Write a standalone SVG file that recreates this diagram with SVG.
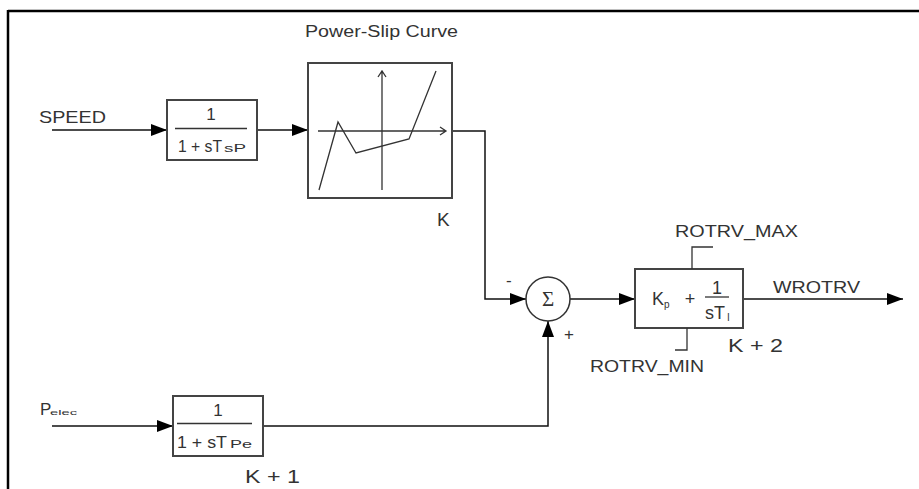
<svg xmlns="http://www.w3.org/2000/svg" width="919" height="489" viewBox="0 0 919 489">
<style>
text{font-family:"Liberation Sans",Arial,sans-serif;fill:#333;font-size:17px}
.box{fill:#fff;stroke:#444;stroke-width:2}
.ln{fill:none;stroke:#111;stroke-width:1.5}
.thin{fill:none;stroke:#333;stroke-width:1.3}
.sub{font-size:10px}
.big{font-size:19px}
.pi{font-size:18px}
</style>
<defs>
<marker id="arr" markerUnits="userSpaceOnUse" markerWidth="16" markerHeight="12" refX="16" refY="6" orient="auto">
<path d="M0,0 L16,6 L0,12 z" fill="#000"/>
</marker>
</defs>
<rect width="919" height="489" fill="#fff"/>
<path d="M8,10 V489 M8,11 H919" fill="none" stroke="#000" stroke-width="2.5"/>

<g id="connectors">
<path class="ln" d="M52,130 H167" marker-end="url(#arr)"/>
<path class="ln" d="M257,130 H308" marker-end="url(#arr)"/>
<path class="ln" d="M452,131 H485 V299 H526" marker-end="url(#arr)"/>
<path class="ln" d="M570,299 H635" marker-end="url(#arr)"/>
<path class="ln" d="M743,299 H903" marker-end="url(#arr)"/>
<path class="ln" d="M52,426 H173" marker-end="url(#arr)"/>
<path class="ln" d="M263,426 H548 V321" marker-end="url(#arr)"/>
</g>

<g id="speed-label"><text x="39" y="123" textLength="67" lengthAdjust="spacingAndGlyphs">SPEED</text></g>
<g id="pelec-label"><text x="40" y="415">P</text><text x="50" y="415" textLength="27" lengthAdjust="spacingAndGlyphs" style="font-size:8px">elec</text></g>

<g id="speed-filter">
<rect class="box" x="167" y="100" width="90" height="60"/>
<text x="211" y="120" text-anchor="middle">1</text>
<path class="thin" d="M175,128.5 H247"/>
<text x="178" y="152" textLength="44" lengthAdjust="spacingAndGlyphs">1 + sT</text>
<text class="sub" x="224" y="152" textLength="22" lengthAdjust="spacingAndGlyphs">sP</text>
</g>

<g id="power-slip">
<text x="305" y="37" style="font-size:16px" textLength="153" lengthAdjust="spacingAndGlyphs">Power-Slip Curve</text>
<rect class="box" x="308" y="63" width="144" height="135"/>
<path class="thin" d="M318,131 H446 M440,127 L446,131 L440,135"/>
<path class="thin" d="M382,190 V71 M378,77 L382,71 L386,77"/>
<polyline class="thin" points="319,190 338,122 356,153 409,139 436,71"/>
<text class="big" x="437" y="226">K</text>
</g>

<g id="sum">
<circle cx="548" cy="299" r="22" fill="#fff" stroke="#333" stroke-width="1.5"/>
<text x="548" y="306" text-anchor="middle" style="font-family:'Liberation Serif',serif;font-size:21px">Σ</text>
<text x="506" y="286">-</text>
<text x="569" y="340" text-anchor="middle">+</text>
</g>

<g id="pi-controller">
<rect class="box" x="635" y="269" width="108" height="59"/>
<text class="pi" x="652" y="305">K</text>
<text class="sub" x="664" y="308">p</text>
<text class="pi" x="690" y="305" text-anchor="middle">+</text>
<text class="pi" x="717" y="294" text-anchor="middle">1</text>
<path class="thin" d="M705,297 H729"/>
<text class="pi" x="705" y="319">sT</text>
<text class="sub" x="727" y="321">I</text>
<path class="thin" d="M692,269 V247 H713"/>
<path class="thin" d="M687,328 V350 H675"/>
<text x="675" y="237" textLength="123" lengthAdjust="spacingAndGlyphs">ROTRV_MAX</text>
<text x="590" y="372" textLength="114" lengthAdjust="spacingAndGlyphs">ROTRV_MIN</text>
<text class="big" x="728" y="352" textLength="55" lengthAdjust="spacingAndGlyphs">K + 2</text>
<text x="773" y="293" textLength="87" lengthAdjust="spacingAndGlyphs">WROTRV</text>
</g>

<g id="pelec-filter">
<rect class="box" x="173" y="396" width="90" height="60"/>
<text x="218" y="416" text-anchor="middle">1</text>
<path class="thin" d="M177,423.5 H252"/>
<text x="177" y="448" textLength="50" lengthAdjust="spacingAndGlyphs">1 + sT</text>
<text class="sub" x="230" y="448" textLength="22" lengthAdjust="spacingAndGlyphs">Pe</text>
<text class="big" x="245" y="483" textLength="55" lengthAdjust="spacingAndGlyphs">K + 1</text>
</g>
</svg>
